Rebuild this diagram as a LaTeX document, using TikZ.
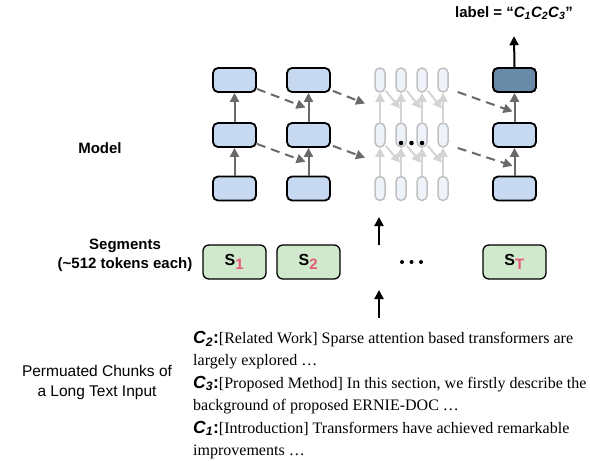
\documentclass[tikz,border=0pt]{standalone}
\usepackage{fontspec}
\setmainfont{Liberation Serif}
\setsansfont{Liberation Sans}
\usetikzlibrary{arrows.meta,calc}

\definecolor{boxblue}{RGB}{198,217,240}
\definecolor{boxdark}{RGB}{105,139,168}
\definecolor{seggreen}{RGB}{208,232,203}
\definecolor{subpink}{RGB}{232,88,120}
\definecolor{arrowgray}{RGB}{105,105,105}
\definecolor{ghostline}{RGB}{192,192,192}
\definecolor{ghostfill}{RGB}{238,243,250}
\definecolor{ghostarrow}{RGB}{212,212,212}

\newcommand{\chunk}[1]{{\sffamily\bfseries\itshape\fontsize{17.5}{22.4}\selectfont C\textsubscript{#1}\upshape:}}
\newcommand{\segname}[1]{S\textsubscript{\color{subpink}\fontsize{15}{15}\selectfont #1}}

\tikzset{
    blk/.style={draw=black, line width=1.8pt, rounded corners=5pt, fill=boxblue,
        minimum width=43pt, minimum height=24pt, inner sep=0pt},
    ghost/.style={draw=ghostline, line width=1.5pt, rounded corners=5pt, fill=ghostfill,
        minimum width=10pt, minimum height=24pt, inner sep=0pt},
    seg/.style={draw=black, line width=1.3pt, rounded corners=6pt, fill=seggreen,
        minimum width=63pt, minimum height=34pt, inner sep=0pt,
        font=\sffamily\bfseries\fontsize{16}{18}\selectfont},
    uparrow/.style={-{Triangle[length=9pt,width=9pt]}, line width=2pt, draw=arrowgray},
    skiparrow/.style={uparrow, dash pattern=on 9pt off 6pt},
    ghostarrow/.style={-{Triangle[length=9pt,width=9pt]}, line width=2pt, draw=ghostarrow},
    feed/.style={-{Triangle[length=9pt,width=9pt]}, line width=2pt, draw=black},
    lbl/.style={font=\sffamily\bfseries\fontsize{15}{19}\selectfont, align=center}
}

\begin{document}
\begin{tikzpicture}[x=1pt,y=-1pt]
\useasboundingbox (0,0) rectangle (590,461);

% Model columns
\foreach \c/\x in {1/234.5,2/308.5,3/514.5}{
    \foreach \r/\y in {1/80,2/135,3/188.5}{
        \node[blk] (M\c\r) at (\x,\y) {};
    }
}
\node[blk, fill=boxdark] (M31) at (514.5,80) {};
\foreach \c in {1,2,3}{
    \draw[uparrow] (M\c3.north) -- (M\c2.south);
    \draw[uparrow] (M\c2.north) -- (M\c1.south);
}

% Hidden columns
\foreach \c/\x in {1/380,2/401,3/422,4/443}{
    \foreach \r/\y in {1/80,2/135,3/188.5}{
        \node[ghost] (T\c\r) at (\x,\y) {};
    }
    \draw[ghostarrow] (T\c3.north) -- (T\c2.south);
    \draw[ghostarrow] (T\c2.north) -- (T\c1.south);
}
\foreach \c/\n in {1/2,2/3,3/4}{
    \draw[ghostarrow] ([yshift=2pt]T\c1.south east) -- ($(T\n1.south)!0.5!(T\n2.north)+(-1,1)$);
    \draw[ghostarrow] ([yshift=2pt]T\c2.south east) -- ($(T\n2.south)!0.5!(T\n3.north)+(-1,1)$);
}
\foreach \x in {401,411.5,422}
    \fill (\x,143) circle (2.3pt);

% Recurrence
\draw[skiparrow] ([yshift=4pt]M11.south east) -- ($(M21.south)!0.5!(M22.north)+(-3,0)$);
\draw[skiparrow] ([yshift=4pt]M12.south east) -- ($(M22.south)!0.5!(M23.north)+(-3,0)$);
\draw[skiparrow] ([xshift=2pt,yshift=2pt]M21.south east) -- ($(T11.south)!0.5!(T12.north)+(-15,-4)$);
\draw[skiparrow] ([xshift=2pt,yshift=2pt]M22.south east) -- ($(T12.south)!0.5!(T13.north)+(-15,-4)$);
\draw[skiparrow] ([xshift=9pt,yshift=-12pt]T41.east) -- ($(M31.south)!0.5!(M32.north)+(-2,4)$);
\draw[skiparrow] ([xshift=9pt,yshift=-13pt]T42.east) -- ($(M32.south)!0.5!(M33.north)+(-2,4)$);

% Output
\node[lbl] (LABEL) at (514,13) {label = “\textit{C\textsubscript{1}C\textsubscript{2}C\textsubscript{3}}”};
\draw[feed] (M31.north) -- ([yshift=-13pt]LABEL.south);

% Segments
\node[seg] (S1) at (234.5,262) {\segname{1}};
\node[seg] (S2) at (308.5,262) {\segname{2}};
\node[seg] (ST) at (514.5,262) {\segname{T}};
\foreach \x in {402,411.5,421}
    \fill (\x,262) circle (2pt);

% Text input
\node[anchor=north west, align=left, inner sep=0pt,
      font=\fontsize{16}{22.4}\selectfont] (TXT) at (193,331)
    {\chunk{2}[Related Work] Sparse attention based transformers are\\
     largely explored …\\
     \chunk{3}[Proposed Method] In this section, we firstly describe the\\
     background of proposed ERNIE-DOC …\\
     \chunk{1}[Introduction] Transformers have achieved remarkable\\
     improvements …};

\coordinate (IN1) at (379,318);
\coordinate (IN2) at (379,290);
\coordinate (SEG1) at (379,245);
\coordinate (SEG2) at (379,217);
\draw[feed] (IN1) -- (IN2);
\draw[feed] (SEG1) -- (SEG2);

% Row labels
\node[lbl] (MODEL) at (100,148) {Model};
\node[lbl] (SEGS) at (125,255) {Segments\\(\textasciitilde512 tokens each)};
\node[font=\sffamily\fontsize{15.5}{20}\selectfont, align=center] (CHUNKS) at (97,382)
    {Permuated Chunks of\\a Long Text Input};
\end{tikzpicture}
\end{document}
